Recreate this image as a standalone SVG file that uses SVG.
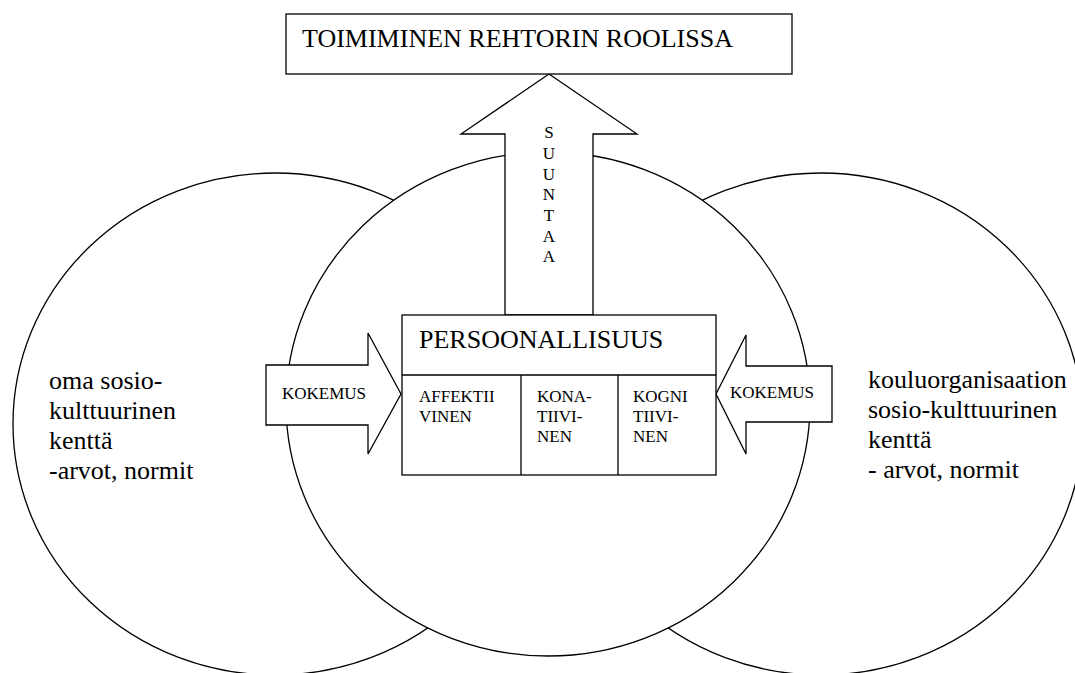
<svg xmlns="http://www.w3.org/2000/svg" width="1075" height="673" viewBox="0 0 1075 673">
  <style>
    .shape { fill: #ffffff; stroke: #000000; stroke-width: 1.3; }
    .line { fill: none; stroke: #000000; stroke-width: 1.3; }
    .big { font-family: "Liberation Serif", "Times New Roman", serif; font-size: 26px; fill: #000000; }
    .small { font-family: "Liberation Serif", "Times New Roman", serif; font-size: 17px; fill: #000000; }
  </style>
  <rect x="0" y="0" width="1075" height="673" fill="#ffffff"/>

  <!-- socio-cultural fields -->
  <g id="field-own">
    <ellipse class="shape" cx="275" cy="424" rx="262" ry="251"/>
    <g class="big">
      <text x="49" y="389">oma sosio-</text>
      <text x="49" y="419">kulttuurinen</text>
      <text x="49" y="449">kenttä</text>
      <text x="49" y="479">-arvot, normit</text>
    </g>
  </g>
  <g id="field-school">
    <ellipse class="shape" cx="821" cy="424" rx="262" ry="251"/>
    <g class="big">
      <text x="868" y="388">kouluorganisaation</text>
      <text x="868" y="418">sosio-kulttuurinen</text>
      <text x="868" y="448">kenttä</text>
      <text x="868" y="478">- arvot, normit</text>
    </g>
  </g>
  <g id="field-person">
    <ellipse class="shape" cx="548" cy="404" rx="262" ry="252"/>
  </g>

  <!-- arrows -->
  <g id="connectors">
    <g id="arrow-suuntaa">
      <polygon class="shape" points="549,74 637,134 593,134 593,315 505,315 505,134 461,134"/>
      <g class="small" text-anchor="middle">
        <text x="549" y="138">S</text>
        <text x="549" y="159">U</text>
        <text x="549" y="180">U</text>
        <text x="549" y="200">N</text>
        <text x="549" y="221">T</text>
        <text x="549" y="242">A</text>
        <text x="549" y="262">A</text>
      </g>
    </g>
    <g id="arrow-kokemus-left">
      <polygon class="shape" points="266,365 368,365 368,333 401,394 368,454 368,425 266,425"/>
      <text class="small" x="282" y="399">KOKEMUS</text>
    </g>
    <g id="arrow-kokemus-right">
      <polygon class="shape" points="832,366 746,366 746,335 716,394 746,454 746,422 832,422"/>
      <text class="small" x="730" y="398">KOKEMUS</text>
    </g>
  </g>

  <!-- role box -->
  <g id="role">
    <rect class="shape" x="286" y="14" width="506" height="60"/>
    <text class="big" x="302" y="47">TOIMIMINEN REHTORIN ROOLISSA</text>
  </g>

  <!-- personality box with its three parts -->
  <g id="personality">
    <rect class="shape" x="402" y="315" width="314" height="160"/>
    <line class="line" x1="402" y1="375" x2="716" y2="375"/>
    <line class="line" x1="521" y1="375" x2="521" y2="475"/>
    <line class="line" x1="618" y1="375" x2="618" y2="475"/>
    <text class="big" x="419" y="348">PERSOONALLISUUS</text>
    <g class="small">
      <text x="419" y="402">AFFEKTII</text>
      <text x="419" y="422">VINEN</text>
      <text x="537" y="402">KONA-</text>
      <text x="537" y="422">TIIVI-</text>
      <text x="537" y="442">NEN</text>
      <text x="633" y="402">KOGNI</text>
      <text x="633" y="422">TIIVI-</text>
      <text x="633" y="442">NEN</text>
    </g>
  </g>
</svg>
